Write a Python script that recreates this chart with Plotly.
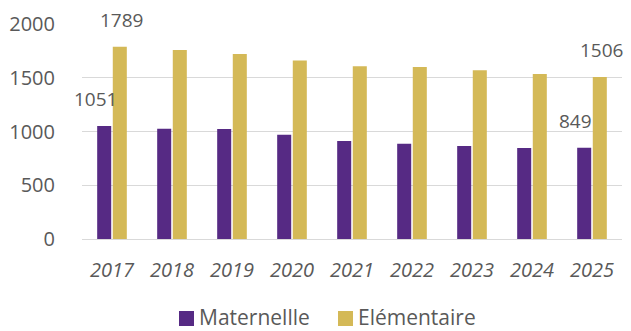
import plotly.graph_objects as go

# School enrolment by year
years = ["2017", "2018", "2019", "2020", "2021", "2022", "2023", "2024", "2025"]
maternelle = [1051, 1025, 1023, 970, 912, 885, 866, 846, 849]
elementaire = [1789, 1757, 1722, 1660, 1607, 1601, 1570, 1536, 1506]
series_names = ["Maternellle", "Elémentaire"]

purple = "#562a84"
gold = "#d4b957"
text_grey = "#595959"
font_family = "Open Sans"
fsize = 20

W, H = 631, 331
ML, MR, MT, MB = 82, 9, 24, 92
plot_w, plot_h = W - ML - MR, H - MT - MB


def px_x(p):
    return (p - ML) / plot_w


def px_y(p):
    return (H - MB - p) / plot_h


fig = go.Figure()
fig.add_trace(go.Bar(name=series_names[0], x=years, y=maternelle,
                     marker=dict(color=purple, line=dict(width=0))))
fig.add_trace(go.Bar(name=series_names[1], x=years, y=elementaire,
                     marker=dict(color=gold, line=dict(width=0))))

# value labels on the first and last year of each series
# (annotation x on a category axis is the category index)
first, last = 0, len(years) - 1
labels = [
    (first, maternelle[first], -17),
    (last, maternelle[last], -17),
    (first, elementaire[first], 9),
    (last, elementaire[last], 9),
]
for idx, v, dx in labels:
    fig.add_annotation(x=idx, y=v, text=str(v), showarrow=False,
                       xshift=dx, yshift=12, yanchor="bottom",
                       font=dict(family=font_family, size=fsize - 1, color=text_grey))

# legend drawn below the axis: colour square followed by the series name
legend_items = [(series_names[0], purple, 179), (series_names[1], gold, 338)]
for name, color, left in legend_items:
    fig.add_shape(type="rect", xref="paper", yref="paper",
                  x0=px_x(left), x1=px_x(left + 15), y0=px_y(326), y1=px_y(311),
                  fillcolor=color, line=dict(width=0))
    fig.add_annotation(xref="paper", yref="paper", x=px_x(left + 19), y=px_y(317),
                       xanchor="left", yanchor="middle", showarrow=False, text=name,
                       borderpad=0,
                       font=dict(family=font_family, size=fsize + 1, color=text_grey))

fig.update_layout(
    width=W, height=H,
    margin=dict(l=ML, r=MR, t=MT, b=MB, autoexpand=False),
    paper_bgcolor="white", plot_bgcolor="white",
    barmode="group", bargap=0.48, bargroupgap=0.1,
    font=dict(family=font_family, size=fsize, color=text_grey),
    showlegend=False,
)
fig.update_xaxes(type="category", categoryorder="array", categoryarray=years,
                 range=[-0.5, len(years) - 0.5],
                 showgrid=False, showline=False,
                 ticks="outside", ticklen=13, tickcolor="rgba(0,0,0,0)",
                 tickfont=dict(family=font_family, size=fsize, color=text_grey, style="italic"))
fig.update_yaxes(range=[0, 2000], tickvals=[0, 500, 1000, 1500, 2000],
                 showgrid=True, gridcolor="#d9d9d9", gridwidth=1,
                 zeroline=True, zerolinecolor="#d9d9d9", zerolinewidth=1,
                 showline=False, ticks="outside", ticklen=22, tickcolor="rgba(0,0,0,0)",
                 tickfont=dict(family=font_family, size=fsize, color=text_grey))

fig.write_html("out.html")
